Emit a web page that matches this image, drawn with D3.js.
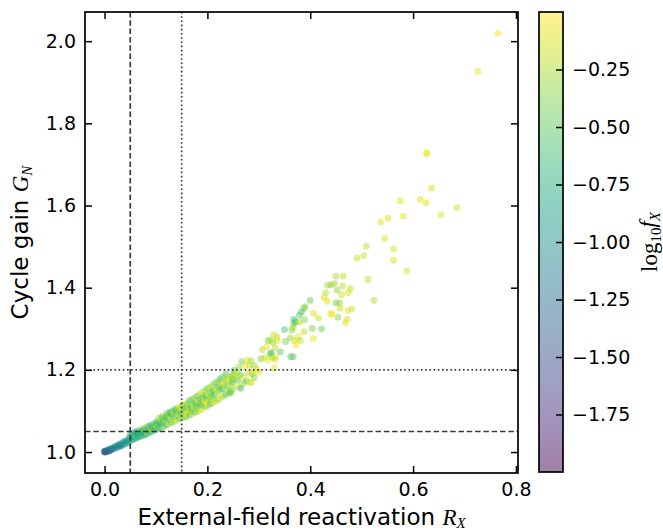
<!DOCTYPE html>
<html>
<head>
<meta charset="utf-8">
<script src="https://cdn.jsdelivr.net/npm/d3@7"></script>
<style>
  body { margin: 0; background: #fff; }
  svg { display: block; font-family: "DejaVu Sans", sans-serif; }
</style>
</head>
<body>
<svg id="chart" width="663" height="531"></svg>
<script>
// DATA: reactivation R_X, cycle gain G_N, log10 f_X  (grouped by region of the cloud)
const rxOrigin = [0.000,0.000,0.000, 0.003,0.003, 0.006,0.006, 0.010,0.010,0.010, 0.014,0.014, 0.018,0.018,
  0.022,0.022, 0.026,0.026, 0.030,0.030,0.030, 0.034,0.034, 0.038,0.038, 0.042,0.042, 0.046,0.046];
const gnOrigin = [1.000,1.001,1.002, 1.000,1.003, 1.002,1.005, 1.004,1.007,1.003, 1.006,1.009, 1.008,1.012,
  1.010,1.014, 1.012,1.017, 1.014,1.019,1.016, 1.016,1.022, 1.019,1.025, 1.021,1.027, 1.024,1.031];
const lfOrigin = [-1.60,-1.45,-1.30, -1.50,-1.35, -1.40,-1.20, -1.25,-1.10,-1.45, -1.15,-1.30, -1.20,-1.00,
  -1.05,-1.15, -0.95,-1.10, -1.00,-0.90,-1.20, -0.95,-0.85, -1.05,-0.90, -0.85,-0.98, -0.90,-0.80];

const rxLow = [0.050,0.049,0.051, 0.055,0.054,0.056, 0.060,0.059,0.061,0.062, 0.065,0.064,0.066,
  0.070,0.069,0.071,0.072, 0.075,0.074,0.076, 0.080,0.079,0.081,0.082, 0.085,0.084,0.086,
  0.090,0.089,0.091,0.092, 0.095,0.094,0.096, 0.100,0.099,0.101,0.102];
const gnLow = [1.028,1.036,1.044, 1.030,1.038,1.046, 1.033,1.041,1.049,1.037, 1.036,1.044,1.052,
  1.038,1.046,1.054,1.050, 1.041,1.049,1.057, 1.043,1.052,1.060,1.048, 1.046,1.055,1.063,
  1.049,1.058,1.066,1.053, 1.052,1.061,1.069, 1.055,1.064,1.072,1.060];
const lfLow = [-0.90,-0.80,-0.70, -0.85,-0.95,-0.60, -0.80,-0.70,-0.88,-0.50, -0.75,-0.90,-0.55,
  -0.82,-0.60,-0.30,-0.72, -0.70,-0.85,-0.50, -0.90,-0.65,-0.40,-0.20, -0.60,-0.80,-0.55,
  -0.75,-0.45,-0.70,-0.15, -0.55,-0.78,-0.35, -0.68,-0.50,-0.80,-0.25];

const rxMid = [0.105,0.104,0.106,0.105, 0.111,0.109,0.110,0.112, 0.116,0.114,0.115,0.117, 0.121,0.119,0.120,0.122,
  0.126,0.124,0.125,0.127, 0.131,0.129,0.130,0.132, 0.136,0.134,0.135,0.137, 0.141,0.139,0.140,0.142,
  0.146,0.144,0.145,0.147, 0.151,0.149,0.150,0.152, 0.156,0.154,0.155,0.157];
const gnMid = [1.058,1.066,1.074,1.082, 1.060,1.070,1.078,1.086, 1.063,1.073,1.082,1.090, 1.066,1.076,1.085,1.094,
  1.069,1.079,1.089,1.097, 1.072,1.082,1.092,1.100, 1.075,1.086,1.096,1.104, 1.078,1.089,1.099,1.108,
  1.081,1.092,1.102,1.111, 1.084,1.095,1.105,1.114, 1.087,1.099,1.109,1.117];
const lfMid = [-0.70,-0.45,-0.60,-0.30, -0.50,-0.75,-0.20,-0.55, -0.35,-0.65,-0.50,-0.12, -0.60,-0.28,-0.70,-0.45,
  -0.15,-0.55,-0.40,-0.62, -0.50,-0.10,-0.60,-0.35, -0.30,-0.52,-0.20,-0.66, -0.08,-0.45,-0.60,-0.25,
  -0.55,-0.18,-0.40,-0.06, -0.30,-0.62,-0.12,-0.50, -0.20,-0.50,-0.35,-0.10];

const rxBand = [0.158,0.161,0.160,0.162,0.159, 0.166,0.164,0.167,0.165, 0.171,0.169,0.172,0.170,0.168,
  0.176,0.174,0.177,0.175, 0.181,0.179,0.182,0.180,0.178, 0.186,0.184,0.187,0.185,
  0.191,0.189,0.192,0.190,0.188, 0.196,0.194,0.197,0.195, 0.201,0.199,0.202,0.200,0.198,
  0.206,0.204,0.207,0.205, 0.211,0.209,0.212,0.210,0.208, 0.216,0.214,0.217,0.215,
  0.221,0.219,0.222,0.220, 0.226,0.224,0.227,0.225, 0.231,0.229,0.232,0.230,
  0.236,0.234,0.237, 0.241,0.239,0.242, 0.246,0.244,0.247, 0.251,0.249,0.252,
  0.261,0.259, 0.271,0.269, 0.246,0.285,0.287,0.243,0.265,0.300];
const gnBand = [1.085,1.097,1.108,1.118,1.092, 1.090,1.102,1.113,1.125, 1.094,1.106,1.117,1.128,1.100,
  1.097,1.110,1.120,1.132, 1.100,1.113,1.124,1.136,1.107, 1.103,1.118,1.130,1.140,
  1.106,1.121,1.133,1.145,1.114, 1.110,1.125,1.138,1.150, 1.113,1.128,1.142,1.155,1.120,
  1.117,1.133,1.146,1.158, 1.120,1.136,1.150,1.163,1.128, 1.124,1.140,1.155,1.168,
  1.128,1.145,1.160,1.172, 1.132,1.150,1.165,1.178, 1.136,1.154,1.170,1.183,
  1.140,1.158,1.175, 1.145,1.162,1.180, 1.150,1.166,1.185, 1.155,1.170,1.190,
  1.160,1.175, 1.168,1.182, 1.143,1.170,1.190,1.145,1.155,1.195];
const lfBand = [-0.45,-0.15,-0.60,-0.30,-0.08, -0.55,-0.20,-0.40,-0.50, -0.10,-0.65,-0.28,-0.45,-0.35,
  -0.50,-0.12,-0.58,-0.30, -0.25,-0.60,-0.08,-0.50,-0.40, -0.18,-0.45,-0.62,-0.20,
  -0.05,-0.35,-0.50,-0.15,-0.55, -0.40,-0.10,-0.60,-0.30, -0.22,-0.52,-0.12,-0.45,-0.07,
  -0.60,-0.30,-0.48,-0.20, -0.10,-0.42,-0.58,-0.25,-0.33, -0.18,-0.55,-0.08,-0.50,
  -0.35,-0.15,-0.62,-0.28, -0.05,-0.45,-0.20,-0.55, -0.30,-0.60,-0.12,-0.40,
  -0.50,-0.22,-0.35, -0.15,-0.48,-0.08, -0.40,-0.10,-0.55, -0.25,-0.60,-0.30,
  -0.12,-0.45, -0.35,-0.05, -0.30,-0.20,-0.45,-0.55,-0.60,-0.12];

const rxSpread = [0.400,0.390,0.388,0.383,0.379,0.406,0.389,0.368,0.371,0.368,
  0.379,0.416,0.404,0.422,0.388,0.406,0.350,0.364,0.367,0.376,
  0.381,0.361,0.370,0.372,0.352,0.342,0.362,0.367,0.329,0.335,
  0.336,0.327,0.332,0.322,0.332,0.332,0.326,0.330,0.318,0.322,
  0.307,0.315,0.304,0.311,0.317,0.324,0.267,0.278,0.285,0.273,
  0.282,0.291,0.296,0.252,0.261,0.257,0.264,0.278,0.287,0.291,
  0.236,0.243,0.249,0.256,0.276,0.283];
const gnSpread = [1.369,1.354,1.350,1.341,1.333,1.338,1.322,1.323,1.317,1.312,
  1.316,1.326,1.301,1.300,1.293,1.276,1.298,1.297,1.303,1.280,
  1.271,1.278,1.271,1.261,1.269,1.244,1.232,1.232,1.286,1.280,
  1.271,1.267,1.254,1.238,1.232,1.225,1.230,1.204,1.271,1.273,
  1.249,1.256,1.227,1.230,1.224,1.242,1.220,1.223,1.222,1.210,
  1.211,1.210,1.202,1.199,1.206,1.193,1.188,1.192,1.193,1.181,
  1.190,1.181,1.177,1.181,1.173,1.169];
const lfSpread = [-0.45,-0.30,-0.42,-0.55,-0.50,-0.12,-0.35,-0.58,-0.62,-0.52,
  -0.20,-0.15,-0.40,-0.42,-0.18,-0.08,-0.55,-0.33,-0.25,-0.10,
  -0.22,-0.30,-0.15,-0.05,-0.40,-0.48,-0.55,-0.50,-0.12,-0.20,
  -0.08,-0.30,-0.18,-0.45,-0.06,-0.14,-0.25,-0.10,-0.35,-0.28,
  -0.22,-0.10,-0.38,-0.15,-0.07,-0.60,-0.40,-0.12,-0.25,-0.05,
  -0.18,-0.30,-0.10,-0.55,-0.30,-0.15,-0.45,-0.20,-0.08,-0.35,
  -0.50,-0.12,-0.40,-0.25,-0.45,-0.06];

const rxTail = [0.765,0.726,0.626,0.627,0.636,0.575,0.614,0.625,0.685,0.654,0.581,0.537,0.551,0.545,0.509,
  0.562,0.562,0.588,0.491,0.504,0.512,0.524,0.450,0.464,0.434,0.441,0.447,0.463,0.452,0.478,
  0.461,0.474,0.430,0.427,0.433,0.450,0.457,0.458,0.473,0.481,0.440,0.442,0.454,0.472,0.468];
const gnTail = [2.019,1.927,1.728,1.726,1.642,1.611,1.615,1.607,1.595,1.577,1.574,1.560,1.569,1.520,1.501,
  1.494,1.467,1.441,1.472,1.478,1.420,1.369,1.428,1.428,1.406,1.407,1.410,1.404,1.394,1.398,
  1.383,1.388,1.388,1.376,1.367,1.363,1.363,1.350,1.344,1.348,1.336,1.336,1.328,1.323,1.315];
const lfTail = [-0.04,-0.06,-0.05,-0.08,-0.12,-0.10,-0.09,-0.11,-0.14,-0.10,-0.08,-0.10,-0.12,-0.09,-0.18,
  -0.11,-0.13,-0.15,-0.20,-0.16,-0.19,-0.22,-0.25,-0.17,-0.30,-0.35,-0.28,-0.20,-0.32,-0.18,
  -0.12,-0.15,-0.22,-0.10,-0.08,-0.40,-0.33,-0.14,-0.11,-0.16,-0.03,-0.05,-0.38,-0.12,-0.09];

const xTicks = [0.0, 0.2, 0.4, 0.6, 0.8];
const yTicks = [1.0, 1.2, 1.4, 1.6, 1.8, 2.0];
const cTicks = [-1.75, -1.5, -1.25, -1.0, -0.75, -0.5, -0.25];
const rxThresholds = [{v: 0.05, style: 'dashed'}, {v: 0.15, style: 'dotted'}];
const gnThresholds = [{v: 1.05, style: 'dashed'}, {v: 1.2, style: 'dotted'}];

// build point table
const groups = [
  [rxOrigin, gnOrigin, lfOrigin], [rxLow, gnLow, lfLow], [rxMid, gnMid, lfMid],
  [rxBand, gnBand, lfBand], [rxSpread, gnSpread, lfSpread], [rxTail, gnTail, lfTail]
];
const points = [];
groups.forEach(([rs, gs, ls]) => {
  const n = Math.min(rs.length, gs.length, ls.length);
  for (let i = 0; i < n; i++) points.push({r: rs[i], g: gs[i], lf: ls[i]});
});

const svg = d3.select('#chart');
const box = {left: 85, right: 518, top: 12, bottom: 473};
const bar = {left: 539, right: 563, top: 12, bottom: 472};

const x = d3.scaleLinear().domain([-0.038, 0.804]).range([box.left, box.right]);
const y = d3.scaleLinear().domain([0.949, 2.071]).range([box.bottom, box.top]);
const cScale = d3.scaleLinear().domain([-2.0, 0.0]).range([bar.bottom, bar.top]);
const color = v => d3.interpolateViridis((v + 2.0) / 2.0);

// points
svg.append('g')
  .selectAll('circle')
  .data(points)
  .enter().append('circle')
  .attr('cx', d => x(d.r))
  .attr('cy', d => y(d.g))
  .attr('r', 3.4)
  .attr('fill', d => color(d.lf))
  .attr('fill-opacity', 0.5);

// threshold lines
const dash = {dashed: '5.5,2.8', dotted: '1.6,2.6'};
svg.append('g').selectAll('line')
  .data(rxThresholds).enter().append('line')
  .attr('x1', d => x(d.v)).attr('x2', d => x(d.v))
  .attr('y1', box.top).attr('y2', box.bottom)
  .attr('stroke', '#3a3a3a').attr('stroke-width', 1.7)
  .attr('stroke-dasharray', d => dash[d.style]);
svg.append('g').selectAll('line')
  .data(gnThresholds).enter().append('line')
  .attr('x1', box.left).attr('x2', box.right)
  .attr('y1', d => y(d.v)).attr('y2', d => y(d.v))
  .attr('stroke', '#3a3a3a').attr('stroke-width', 1.7)
  .attr('stroke-dasharray', d => dash[d.style]);

// axes, ticks pointing inward on all four sides
const styleAxis = g => {
  g.select('.domain').remove();
  g.selectAll('.tick line').attr('stroke', '#000').attr('stroke-width', 1.5);
  g.selectAll('.tick text').attr('fill', '#000').style('font-size', '19px')
    .style('font-family', '"DejaVu Sans", sans-serif');
};
svg.append('g').attr('transform', `translate(0,${box.bottom})`)
  .call(d3.axisBottom(x).tickValues(xTicks).tickFormat(d3.format('.1f')).tickSize(-7).tickPadding(10))
  .call(styleAxis);
svg.append('g').attr('transform', `translate(0,${box.top})`)
  .call(d3.axisTop(x).tickValues(xTicks).tickFormat('').tickSize(-7))
  .call(styleAxis);
svg.append('g').attr('transform', `translate(${box.left},0)`)
  .call(d3.axisLeft(y).tickValues(yTicks).tickFormat(d3.format('.1f')).tickSize(-7).tickPadding(9))
  .call(styleAxis);
svg.append('g').attr('transform', `translate(${box.right},0)`)
  .call(d3.axisRight(y).tickValues(yTicks).tickFormat('').tickSize(-7))
  .call(styleAxis);

svg.append('rect')
  .attr('x', box.left).attr('y', box.top)
  .attr('width', box.right - box.left).attr('height', box.bottom - box.top)
  .attr('fill', 'none').attr('stroke', '#000').attr('stroke-width', 1.7);

// axis labels
svg.append('text')
  .attr('x', (box.left + box.right) / 2).attr('y', 525)
  .attr('text-anchor', 'middle').style('font-size', '23px')
  .call(t => {
    t.append('tspan').text('External-field reactivation ');
    t.append('tspan').style('font-family', '"Liberation Serif", serif').style('font-style', 'italic').text('R');
    t.append('tspan').attr('dy', '0.2em').style('font-size', '15px')
      .style('font-family', '"Liberation Serif", serif').style('font-style', 'italic').text('X');
  });

svg.append('text')
  .attr('transform', `translate(28,${(box.top + box.bottom) / 2}) rotate(-90)`)
  .attr('text-anchor', 'middle').style('font-size', '23px')
  .call(t => {
    t.append('tspan').text('Cycle gain ');
    t.append('tspan').style('font-family', '"Liberation Serif", serif').style('font-style', 'italic').text('G');
    t.append('tspan').attr('dy', '0.25em').style('font-size', '15px')
      .style('font-family', '"Liberation Serif", serif').style('font-style', 'italic').text('N');
  });

// colorbar
const grad = svg.append('defs').append('linearGradient')
  .attr('id', 'viridis').attr('x1', 0).attr('y1', 1).attr('x2', 0).attr('y2', 0);
d3.range(0, 1.0001, 0.05).forEach(t => {
  grad.append('stop').attr('offset', t).attr('stop-color', d3.interpolateViridis(t));
});
svg.append('rect')
  .attr('x', bar.left).attr('y', bar.top)
  .attr('width', bar.right - bar.left).attr('height', bar.bottom - bar.top)
  .attr('fill', 'url(#viridis)').attr('fill-opacity', 0.5);
svg.append('g').attr('transform', `translate(${bar.right},0)`)
  .call(d3.axisRight(cScale).tickValues(cTicks).tickFormat(d3.format('.2f')).tickSize(-7).tickPadding(9))
  .call(styleAxis);
svg.append('rect')
  .attr('x', bar.left).attr('y', bar.top)
  .attr('width', bar.right - bar.left).attr('height', bar.bottom - bar.top)
  .attr('fill', 'none').attr('stroke', '#000').attr('stroke-width', 1.7);

svg.append('text')
  .attr('transform', `translate(657,${(bar.top + bar.bottom) / 2}) rotate(-90)`)
  .attr('text-anchor', 'middle').style('font-size', '23px')
  .style('font-family', '"Liberation Serif", serif')
  .call(t => {
    t.append('tspan').text('log');
    t.append('tspan').attr('dy', '0.25em').style('font-size', '15px').text('10');
    t.append('tspan').attr('dy', '-0.25em').style('font-style', 'italic').text('f');
    t.append('tspan').attr('dy', '0.3em').style('font-size', '15px').style('font-style', 'italic').text('X');
  });
</script>
</body>
</html>
